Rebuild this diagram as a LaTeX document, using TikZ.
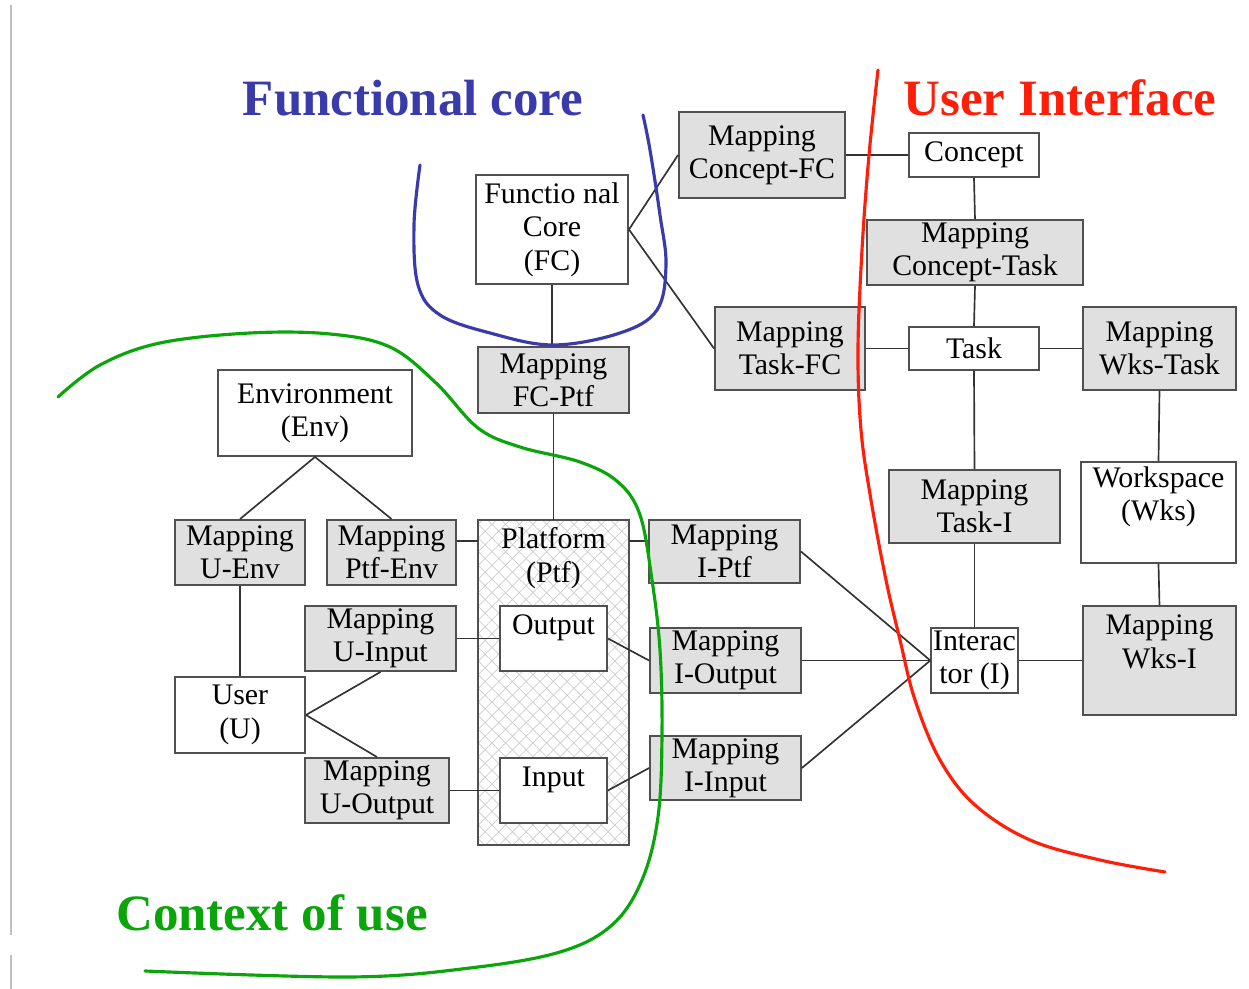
\documentclass[tikz,border=0pt]{standalone}
\usepackage{fontspec}
\setmainfont{Liberation Serif}
\usetikzlibrary{patterns.meta}
\definecolor{fcblue}{RGB}{58,58,170}
\definecolor{uired}{RGB}{255,30,10}
\definecolor{ctxgreen}{RGB}{10,165,10}
\definecolor{mapgray}{RGB}{224,224,224}
\definecolor{edgegray}{RGB}{80,80,80}

\begin{document}
\begin{tikzpicture}[x=0.02cm, y=-0.02cm,
    ent/.style={draw=edgegray, line width=1.1pt, fill=white, align=center, inner sep=1pt, font=\fontsize{17}{19}\selectfont},
    map/.style={ent, fill=mapgray},
    conn/.style={draw=black!80, line width=0.95pt},
    hand/.style={line width=1.8pt, line cap=round},
    title/.style={font=\fontsize{29}{32}\selectfont\bfseries}
]
\useasboundingbox (0,0) rectangle (1249,989);
\draw[black!25, line width=0.6pt] (11,5) -- (11,935) (11,955) -- (11,989);

% functional core side
\node[ent, minimum width=3.04cm, minimum height=2.18cm] (fc) at (552,229.5) {Functio nal\\Core\\(FC)};
\node[map, minimum width=3.32cm, minimum height=1.72cm] (mcfc) at (762,155) {Mapping\\Concept-FC};
\node[map, minimum width=3.0cm, minimum height=1.66cm] (mtfc) at (790,348.5) {Mapping\\Task-FC};
\node[map, minimum width=3.02cm, minimum height=1.32cm] (mfcp) at (553.5,380) {Mapping\\FC-Ptf};

% user interface side
\node[ent, minimum width=2.6cm, minimum height=0.88cm] (concept) at (974,155) {Concept};
\node[map, minimum width=4.32cm, minimum height=1.3cm] (mct) at (975,252.5) {Mapping\\Concept-Task};
\node[ent, minimum width=2.6cm, minimum height=0.86cm] (task) at (974,348.5) {Task};
\node[map, minimum width=3.06cm, minimum height=1.66cm] (mwt) at (1159.5,348.5) {Mapping\\Wks-Task};
\node[map, minimum width=3.42cm, minimum height=1.46cm] (mti) at (974.5,506.5) {Mapping\\Task-I};
\node[ent, minimum width=3.1cm, minimum height=2.02cm] (wks) at (1158.5,512.5) {Workspace\\(Wks)\\[-3pt]\strut};
\node[ent, minimum width=1.7cm, minimum height=1.3cm] (intr) at (974.5,660.5) {Interac\\tor (I)};
\node[map, minimum width=3.06cm, minimum height=2.18cm] (mwi) at (1159.5,660.5) {Mapping\\Wks-I\\[-3pt]\strut};

% context of use side
\node[ent, minimum width=3.88cm, minimum height=1.72cm] (env) at (315,413) {Environment\\(Env)};
\node[map, minimum width=2.6cm, minimum height=1.3cm] (mue) at (240,552.5) {Mapping\\U-Env};
\node[map, minimum width=2.58cm, minimum height=1.3cm] (mpe) at (391.5,552.5) {Mapping\\Ptf-Env};
\node[map, minimum width=3.02cm, minimum height=1.3cm] (mui) at (380.5,638.5) {Mapping\\U-Input};
\node[ent, minimum width=2.6cm, minimum height=1.52cm] (user) at (240,715) {User\\(U)};
\node[map, minimum width=2.88cm, minimum height=1.3cm] (muo) at (377,790.5) {Mapping\\U-Output};

% platform
\node[ent, fill=none, minimum width=3.02cm, minimum height=6.5cm,
      preaction={pattern={Lines[angle=45,distance=5.5pt,line width=0.4pt]}, pattern color=black!20},
      pattern={Lines[angle=-45,distance=5.5pt,line width=0.4pt]}, pattern color=black!20] (ptf) at (553.5,682.5) {};
\node[align=center, anchor=north, font=\fontsize{17}{19}\selectfont, inner sep=1pt] (ptftxt) at ([yshift=-0.12cm]ptf.north) {Platform\\(Ptf)};
\node[ent, minimum width=2.14cm, minimum height=1.3cm] (out) at (553.5,638.5) {Output\\[-9pt]\strut};
\node[ent, minimum width=2.14cm, minimum height=1.3cm] (inp) at (553.5,790.5) {Input\\[-9pt]\strut};
\node[map, minimum width=3.02cm, minimum height=1.26cm] (mip) at (724.5,551.5) {Mapping\\I-Ptf};
\node[map, minimum width=3.02cm, minimum height=1.3cm] (mio) at (725.5,660.5) {Mapping\\I-Output};
\node[map, minimum width=3.02cm, minimum height=1.28cm] (mii) at (725.5,768) {Mapping\\I-Input};

% connectors
\draw[conn] (fc.east) -- (mcfc.west);
\draw[conn] (fc.east) -- (mtfc.west);
\draw[conn] (fc.south) -- (fc.south |- mfcp.north);
\draw[conn] (mfcp.south) -- (mfcp.south |- ptf.north);
\draw[conn] (mcfc.east) -- (concept.west);
\draw[conn] (concept.south) -- (mct.north);
\draw[conn] (mct.south) -- (task.north);
\draw[conn] (mtfc.east) -- (task.west);
\draw[conn] (task.east) -- (mwt.west);
\draw[conn] (task.south) -- (mti.north);
\draw[conn] (mti.south) -- (intr.north);
\draw[conn] (mwt.south) -- (wks.north);
\draw[conn] (wks.south) -- (mwi.north);
\draw[conn] (intr.east) -- (mwi.west);
\draw[conn] (mip.east) -- (intr.west);
\draw[conn] (mio.east) -- (intr.west);
\draw[conn] (mii.east) -- (intr.west);
\draw[conn] (mip.172) -- (mip.172 -| ptf.east);
\draw[conn] (out.east) -- (mio.west);
\draw[conn] (inp.east) -- (mii.west);
\draw[conn] (env.south) -- (mue.north);
\draw[conn] (env.south) -- (mpe.north);
\draw[conn] (mpe.10) -- (mpe.10 -| ptf.west);
\draw[conn] (mue.south) -- (user.north);
\draw[conn] (mui.east) -- (out.west);
\draw[conn] (muo.east) -- (inp.west);
\draw[conn] (user.east) -- (mui.south);
\draw[conn] (user.east) -- (muo.north);

% hand drawn borders
\draw[hand, fcblue] plot[smooth, tension=0.6] coordinates {(420,165) (414,225) (418,285) (440,315) (490,333) (553,345) (620,333) (657,310) (666,265) (660,215) (650,150) (643,115)};
\draw[hand, ctxgreen] plot[smooth, tension=0.6] coordinates {(58,397) (100,365) (160,343) (250,333) (330,334) (390,347) (436,383) (478,428) (520,447) (580,462) (618,482) (640,515) (652,580) (660,650) (662,735) (658,817) (642,880) (612,925) (560,952) (470,968) (350,977) (145,971)};
\draw[hand, uired] plot[smooth, tension=0.6] coordinates {(878,70) (869,155) (862,250) (858,350) (861,430) (871,500) (886,580) (900,640) (915,700) (940,760) (975,805) (1030,840) (1100,860) (1165,872)};

% region titles
\node[title, text=fcblue] (fctitle) at (413,98) {Functional core};
\node[title, text=uired] (uititle) at (1060,98) {User Interface};
\node[title, text=ctxgreen] (ctxtitle) at (272,913) {Context of use};
\end{tikzpicture}
\end{document}
